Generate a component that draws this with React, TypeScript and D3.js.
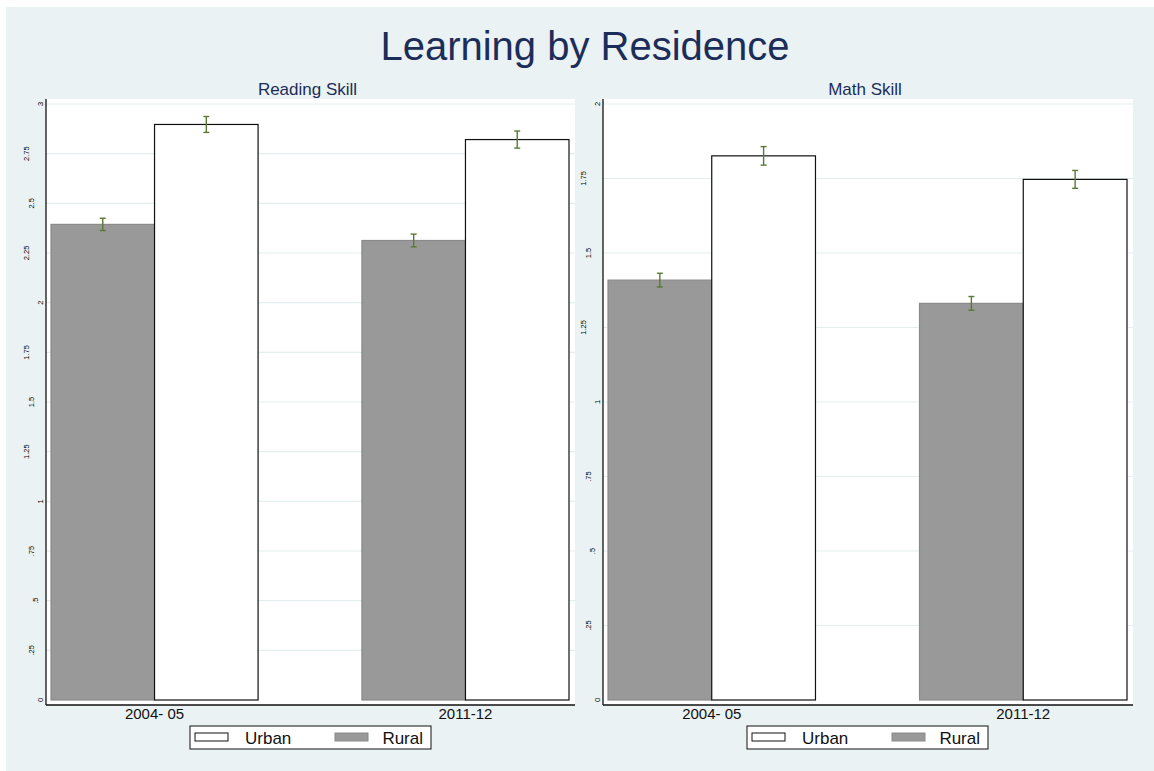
import React, { useEffect, useRef } from "react";
import * as d3 from "d3";

// data
const groups = ["2004- 05", "2011-12"];
const readingRural = [2.394, 2.313];
const readingUrban = [2.897, 2.821];
const readingRuralErr = [0.031, 0.032];
const readingUrbanErr = [0.04, 0.043];
const mathRural = [1.409, 1.331];
const mathUrban = [1.826, 1.747];
const mathRuralErr = [0.023, 0.023];
const mathUrbanErr = [0.031, 0.03];
const readingTicks = [0, 0.25, 0.5, 0.75, 1, 1.25, 1.5, 1.75, 2, 2.25, 2.5, 2.75, 3];
const mathTicks = [0, 0.25, 0.5, 0.75, 1, 1.25, 1.5, 1.75, 2];
const legendLabels = ["Urban", "Rural"];

const BG = "#eaf2f3";
const NAVY = "#1c2d5a";
const ERR = "#5a7a34";
const GRAY = "#999999";

const fmt = (d) => (d === 0 ? "0" : String(d).replace(/^0\./, "."));

const App = () => {
  const ref = useRef();

  useEffect(() => {
    draw();
  }, []);

  const draw = () => {
    const svg = d3.select(ref.current);
    svg.selectAll("*").remove();

    svg.append("rect").attr("width", 1154).attr("height", 771).attr("fill", "#fff");
    svg.append("rect").attr("x", 6).attr("y", 7).attr("width", 1148).attr("height", 764).attr("fill", BG);

    svg
      .append("text")
      .attr("x", 585)
      .attr("y", 60)
      .attr("text-anchor", "middle")
      .attr("font-family", "Liberation Sans, Arial, sans-serif")
      .attr("font-size", 40)
      .attr("fill", NAVY)
      .text("Learning by Residence");

    const panels = [
      {
        title: "Reading Skill",
        left: 46,
        right: 575,
        max: 3,
        ticks: readingTicks,
        rural: readingRural,
        urban: readingUrban,
        ruralErr: readingRuralErr,
        urbanErr: readingUrbanErr,
      },
      {
        title: "Math Skill",
        left: 603,
        right: 1133,
        max: 2,
        ticks: mathTicks,
        rural: mathRural,
        urban: mathUrban,
        ruralErr: mathRuralErr,
        urbanErr: mathUrbanErr,
      },
    ];

    panels.forEach((p) => {
      const g = svg.append("g");
      const top = 99;
      const axisY = 705;

      // plot region
      g.append("rect")
        .attr("x", p.left)
        .attr("y", top)
        .attr("width", p.right - p.left)
        .attr("height", axisY - top)
        .attr("fill", "#fff");

      g.append("text")
        .attr("x", (p.left + p.right) / 2 - 3)
        .attr("y", 95)
        .attr("text-anchor", "middle")
        .attr("font-family", "Liberation Sans, Arial, sans-serif")
        .attr("font-size", 17)
        .attr("fill", NAVY)
        .text(p.title);

      const y = d3.scaleLinear().domain([0, p.max]).range([700, 104]);

      const x = d3
        .scaleBand()
        .domain(groups)
        .range([p.left + 5, p.right - 6])
        .paddingInner(0.334)
        .paddingOuter(0);

      const xs = d3
        .scaleBand()
        .domain(["Rural", "Urban"])
        .range([0, x.bandwidth()]);

      // grid
      g.append("g")
        .selectAll("line")
        .data(p.ticks.filter((t) => t > 0))
        .join("line")
        .attr("x1", p.left)
        .attr("x2", p.right)
        .attr("y1", (d) => y(d))
        .attr("y2", (d) => y(d))
        .attr("stroke", "#e4eeef")
        .attr("stroke-width", 1.2);

      // y labels, vertical
      g.append("g")
        .selectAll("text")
        .data(p.ticks)
        .join("text")
        .attr("transform", (d) => {
          const n = fmt(d).length;
          const cx = p.left - 6 - (n - 1) * 4.5;
          return "translate(" + cx + "," + y(d) + ") rotate(-90)";
        })
        .attr("text-anchor", "middle")
        .attr("dominant-baseline", "central")
        .attr("font-family", "Liberation Sans, Arial, sans-serif")
        .attr("font-size", 7.5)
        .attr("fill", "#000")
        .text((d) => fmt(d));

      const rows = groups.map((grp, i) => ({
        grp,
        bars: [
          { key: "Rural", v: p.rural[i], e: p.ruralErr[i] },
          { key: "Urban", v: p.urban[i], e: p.urbanErr[i] },
        ],
      }));

      const grpG = g
        .append("g")
        .selectAll("g")
        .data(rows)
        .join("g")
        .attr("transform", (d) => "translate(" + x(d.grp) + ",0)");

      grpG
        .selectAll("rect")
        .data((d) => d.bars)
        .join("rect")
        .attr("x", (d) => xs(d.key))
        .attr("y", (d) => y(d.v))
        .attr("width", xs.bandwidth())
        .attr("height", (d) => y(0) - y(d.v))
        .attr("fill", (d) => (d.key === "Rural" ? GRAY : "#fff"))
        .attr("stroke", (d) => (d.key === "Rural" ? "#8a8a8a" : "#111"))
        .attr("stroke-width", 1.2);

      // error bars
      const eb = grpG
        .selectAll("g.err")
        .data((d) => d.bars)
        .join("g")
        .attr("class", "err")
        .attr("stroke", ERR)
        .attr("stroke-width", 1.4);
      eb.append("line")
        .attr("x1", (d) => xs(d.key) + xs.bandwidth() / 2)
        .attr("x2", (d) => xs(d.key) + xs.bandwidth() / 2)
        .attr("y1", (d) => y(d.v + d.e))
        .attr("y2", (d) => y(d.v - d.e));
      [1, -1].forEach((s) => {
        eb.append("line")
          .attr("x1", (d) => xs(d.key) + xs.bandwidth() / 2 - 3)
          .attr("x2", (d) => xs(d.key) + xs.bandwidth() / 2 + 3)
          .attr("y1", (d) => y(d.v + s * d.e))
          .attr("y2", (d) => y(d.v + s * d.e));
      });

      // axes lines
      g.append("line")
        .attr("x1", p.left)
        .attr("x2", p.left)
        .attr("y1", top)
        .attr("y2", axisY)
        .attr("stroke", "#111")
        .attr("stroke-width", 1.3);
      g.append("line")
        .attr("x1", p.left)
        .attr("x2", p.right)
        .attr("y1", axisY)
        .attr("y2", axisY)
        .attr("stroke", "#111")
        .attr("stroke-width", 1.3);

      g.append("g")
        .selectAll("text")
        .data(groups)
        .join("text")
        .attr("x", (d) => x(d) + x.bandwidth() / 2)
        .attr("y", 719)
        .attr("text-anchor", "middle")
        .attr("font-family", "Liberation Sans, Arial, sans-serif")
        .attr("font-size", 15)
        .attr("fill", "#111")
        .text((d) => d);

      // legend
      const lx = p.left + 144;
      const lg = g.append("g").attr("transform", "translate(" + lx + ",726)");
      lg.append("rect")
        .attr("width", 241)
        .attr("height", 23)
        .attr("fill", "#fff")
        .attr("stroke", "#111")
        .attr("stroke-width", 1);
      legendLabels.forEach((lab, i) => {
        const ox = i === 0 ? 5 : 145;
        lg.append("rect")
          .attr("x", ox)
          .attr("y", 7)
          .attr("width", 33)
          .attr("height", 8)
          .attr("fill", lab === "Rural" ? GRAY : "#fff")
          .attr("stroke", lab === "Rural" ? "#8a8a8a" : "#111")
          .attr("stroke-width", 1);
        lg.append("text")
          .attr("x", i === 0 ? 55 : 233)
          .attr("y", 18)
          .attr("text-anchor", i === 0 ? "start" : "end")
          .attr("font-family", "Liberation Sans, Arial, sans-serif")
          .attr("font-size", 17)
          .attr("fill", "#111")
          .text(lab);
      });
    });
  };

  return (
    <svg
      ref={ref}
      width={1154}
      height={771}
      style={{ position: "absolute", left: 0, top: 0, display: "block" }}
    ></svg>
  );
};

export default App;
